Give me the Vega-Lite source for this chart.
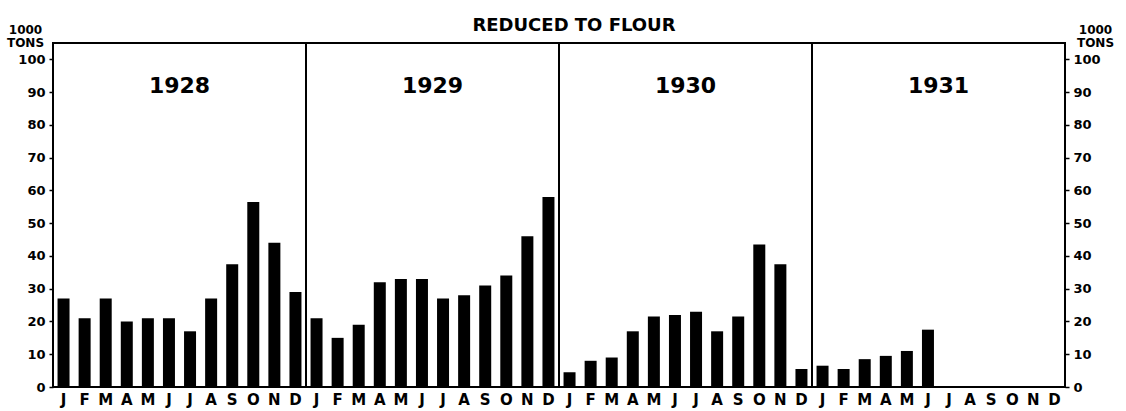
{
  "$schema": "https://vega.github.io/schema/vega-lite/v6.json",
  "width": 1012,
  "height": 344,
  "autosize": "none",
  "padding": {"left": 53, "top": 43, "right": 61, "bottom": 24},
  "background": "white",
  "config": {
    "view": {"stroke": "black", "strokeWidth": 2},
    "font": "DejaVu Sans"
  },
  "title": {
    "text": "REDUCED TO FLOUR",
    "fontSize": 18,
    "fontWeight": "bold",
    "font": "DejaVu Sans",
    "color": "black",
    "anchor": "middle",
    "dx": 15,
    "offset": 0,
    "dy": 12
  },
  "data": {
    "values": [
      {"year": 1928, "month": 1, "idx": 0, "value": 27},
      {"year": 1928, "month": 2, "idx": 1, "value": 21},
      {"year": 1928, "month": 3, "idx": 2, "value": 27},
      {"year": 1928, "month": 4, "idx": 3, "value": 20},
      {"year": 1928, "month": 5, "idx": 4, "value": 21},
      {"year": 1928, "month": 6, "idx": 5, "value": 21},
      {"year": 1928, "month": 7, "idx": 6, "value": 17},
      {"year": 1928, "month": 8, "idx": 7, "value": 27},
      {"year": 1928, "month": 9, "idx": 8, "value": 37.5},
      {"year": 1928, "month": 10, "idx": 9, "value": 56.5},
      {"year": 1928, "month": 11, "idx": 10, "value": 44},
      {"year": 1928, "month": 12, "idx": 11, "value": 29},
      {"year": 1929, "month": 1, "idx": 12, "value": 21},
      {"year": 1929, "month": 2, "idx": 13, "value": 15},
      {"year": 1929, "month": 3, "idx": 14, "value": 19},
      {"year": 1929, "month": 4, "idx": 15, "value": 32},
      {"year": 1929, "month": 5, "idx": 16, "value": 33},
      {"year": 1929, "month": 6, "idx": 17, "value": 33},
      {"year": 1929, "month": 7, "idx": 18, "value": 27},
      {"year": 1929, "month": 8, "idx": 19, "value": 28},
      {"year": 1929, "month": 9, "idx": 20, "value": 31},
      {"year": 1929, "month": 10, "idx": 21, "value": 34},
      {"year": 1929, "month": 11, "idx": 22, "value": 46},
      {"year": 1929, "month": 12, "idx": 23, "value": 58},
      {"year": 1930, "month": 1, "idx": 24, "value": 4.5},
      {"year": 1930, "month": 2, "idx": 25, "value": 8},
      {"year": 1930, "month": 3, "idx": 26, "value": 9},
      {"year": 1930, "month": 4, "idx": 27, "value": 17},
      {"year": 1930, "month": 5, "idx": 28, "value": 21.5},
      {"year": 1930, "month": 6, "idx": 29, "value": 22},
      {"year": 1930, "month": 7, "idx": 30, "value": 23},
      {"year": 1930, "month": 8, "idx": 31, "value": 17},
      {"year": 1930, "month": 9, "idx": 32, "value": 21.5},
      {"year": 1930, "month": 10, "idx": 33, "value": 43.5},
      {"year": 1930, "month": 11, "idx": 34, "value": 37.5},
      {"year": 1930, "month": 12, "idx": 35, "value": 5.5},
      {"year": 1931, "month": 1, "idx": 36, "value": 6.5},
      {"year": 1931, "month": 2, "idx": 37, "value": 5.5},
      {"year": 1931, "month": 3, "idx": 38, "value": 8.5},
      {"year": 1931, "month": 4, "idx": 39, "value": 9.5},
      {"year": 1931, "month": 5, "idx": 40, "value": 11},
      {"year": 1931, "month": 6, "idx": 41, "value": 17.5},
      {"year": 1931, "month": 7, "idx": 42, "value": null},
      {"year": 1931, "month": 8, "idx": 43, "value": null},
      {"year": 1931, "month": 9, "idx": 44, "value": null},
      {"year": 1931, "month": 10, "idx": 45, "value": null},
      {"year": 1931, "month": 11, "idx": 46, "value": null},
      {"year": 1931, "month": 12, "idx": 47, "value": null}
    ]
  },
  "resolve": {"axis": {"y": "independent"}},
  "layer": [
    {
      "mark": {"type": "bar", "color": "black", "size": 12},
      "encoding": {
        "x": {
          "field": "idx",
          "type": "ordinal",
          "scale": {"domain": [0,1,2,3,4,5,6,7,8,9,10,11,12,13,14,15,16,17,18,19,20,21,22,23,24,25,26,27,28,29,30,31,32,33,34,35,36,37,38,39,40,41,42,43,44,45,46,47], "paddingInner": 0, "paddingOuter": 0},
          "axis": {
            "title": null,
            "labelExpr": "['J','F','M','A','M','J','J','A','S','O','N','D'][datum.value % 12]",
            "labelAngle": 0,
            "labelFontSize": 15,
            "labelFontWeight": "bold",
            "labelColor": "black",
            "labelPadding": 5,
            "ticks": false,
            "domain": false
          }
        },
        "y": {
          "field": "value",
          "type": "quantitative",
          "scale": {"domain": [0, 105], "nice": false, "zero": true},
          "axis": {
            "orient": "left",
            "values": [0, 10, 20, 30, 40, 50, 60, 70, 80, 90, 100],
            "grid": false,
            "domain": false,
            "tickSize": 4,
            "tickColor": "black",
            "tickWidth": 1.5,
            "labelPadding": 4,
            "labelFontSize": 13,
            "labelFontWeight": "bold",
            "labelColor": "black",
            "title": ["1000", "TONS"],
            "titleAngle": 0,
            "titleAlign": "center",
            "titleBaseline": "bottom",
            "titleX": -28,
            "titleY": -7,
            "titleFontSize": 12,
            "titleFontWeight": "bold",
            "titleColor": "black",
            "titleLineHeight": 13
          }
        }
      }
    },
    {
      "transform": [{"filter": "datum.month == 12 && datum.year < 1931"}],
      "mark": {"type": "rule", "color": "black", "strokeWidth": 2},
      "encoding": {
        "x": {
          "field": "idx",
          "type": "ordinal",
          "bandPosition": 1,
          "axis": {
            "title": null,
            "labelExpr": "['J','F','M','A','M','J','J','A','S','O','N','D'][datum.value % 12]",
            "labelAngle": 0,
            "labelFontSize": 15,
            "labelFontWeight": "bold",
            "labelColor": "black",
            "labelPadding": 5,
            "ticks": false,
            "domain": false
          }
        }
      }
    },
    {
      "transform": [{"filter": "datum.month == 6"}],
      "mark": {"type": "text", "fontSize": 22, "fontWeight": "bold", "font": "DejaVu Sans", "color": "black", "baseline": "middle", "align": "center"},
      "encoding": {
        "x": {
          "field": "idx",
          "type": "ordinal",
          "bandPosition": 1,
          "axis": {
            "title": null,
            "labelExpr": "['J','F','M','A','M','J','J','A','S','O','N','D'][datum.value % 12]",
            "labelAngle": 0,
            "labelFontSize": 15,
            "labelFontWeight": "bold",
            "labelColor": "black",
            "labelPadding": 5,
            "ticks": false,
            "domain": false
          }
        },
        "y": {
          "datum": 92,
          "type": "quantitative",
          "scale": {"domain": [0, 105], "nice": false, "zero": true},
          "axis": {
            "orient": "right",
            "values": [0, 10, 20, 30, 40, 50, 60, 70, 80, 90, 100],
            "grid": false,
            "domain": false,
            "tickSize": 4,
            "tickColor": "black",
            "tickWidth": 1.5,
            "labelPadding": 4,
            "labelFontSize": 13,
            "labelFontWeight": "bold",
            "labelColor": "black",
            "title": ["1000", "TONS"],
            "titleAngle": 0,
            "titleAlign": "center",
            "titleBaseline": "bottom",
            "titleX": 30,
            "titleY": -7,
            "titleFontSize": 12,
            "titleFontWeight": "bold",
            "titleColor": "black",
            "titleLineHeight": 13
          }
        },
        "text": {"field": "year", "type": "nominal"}
      }
    }
  ]
}
